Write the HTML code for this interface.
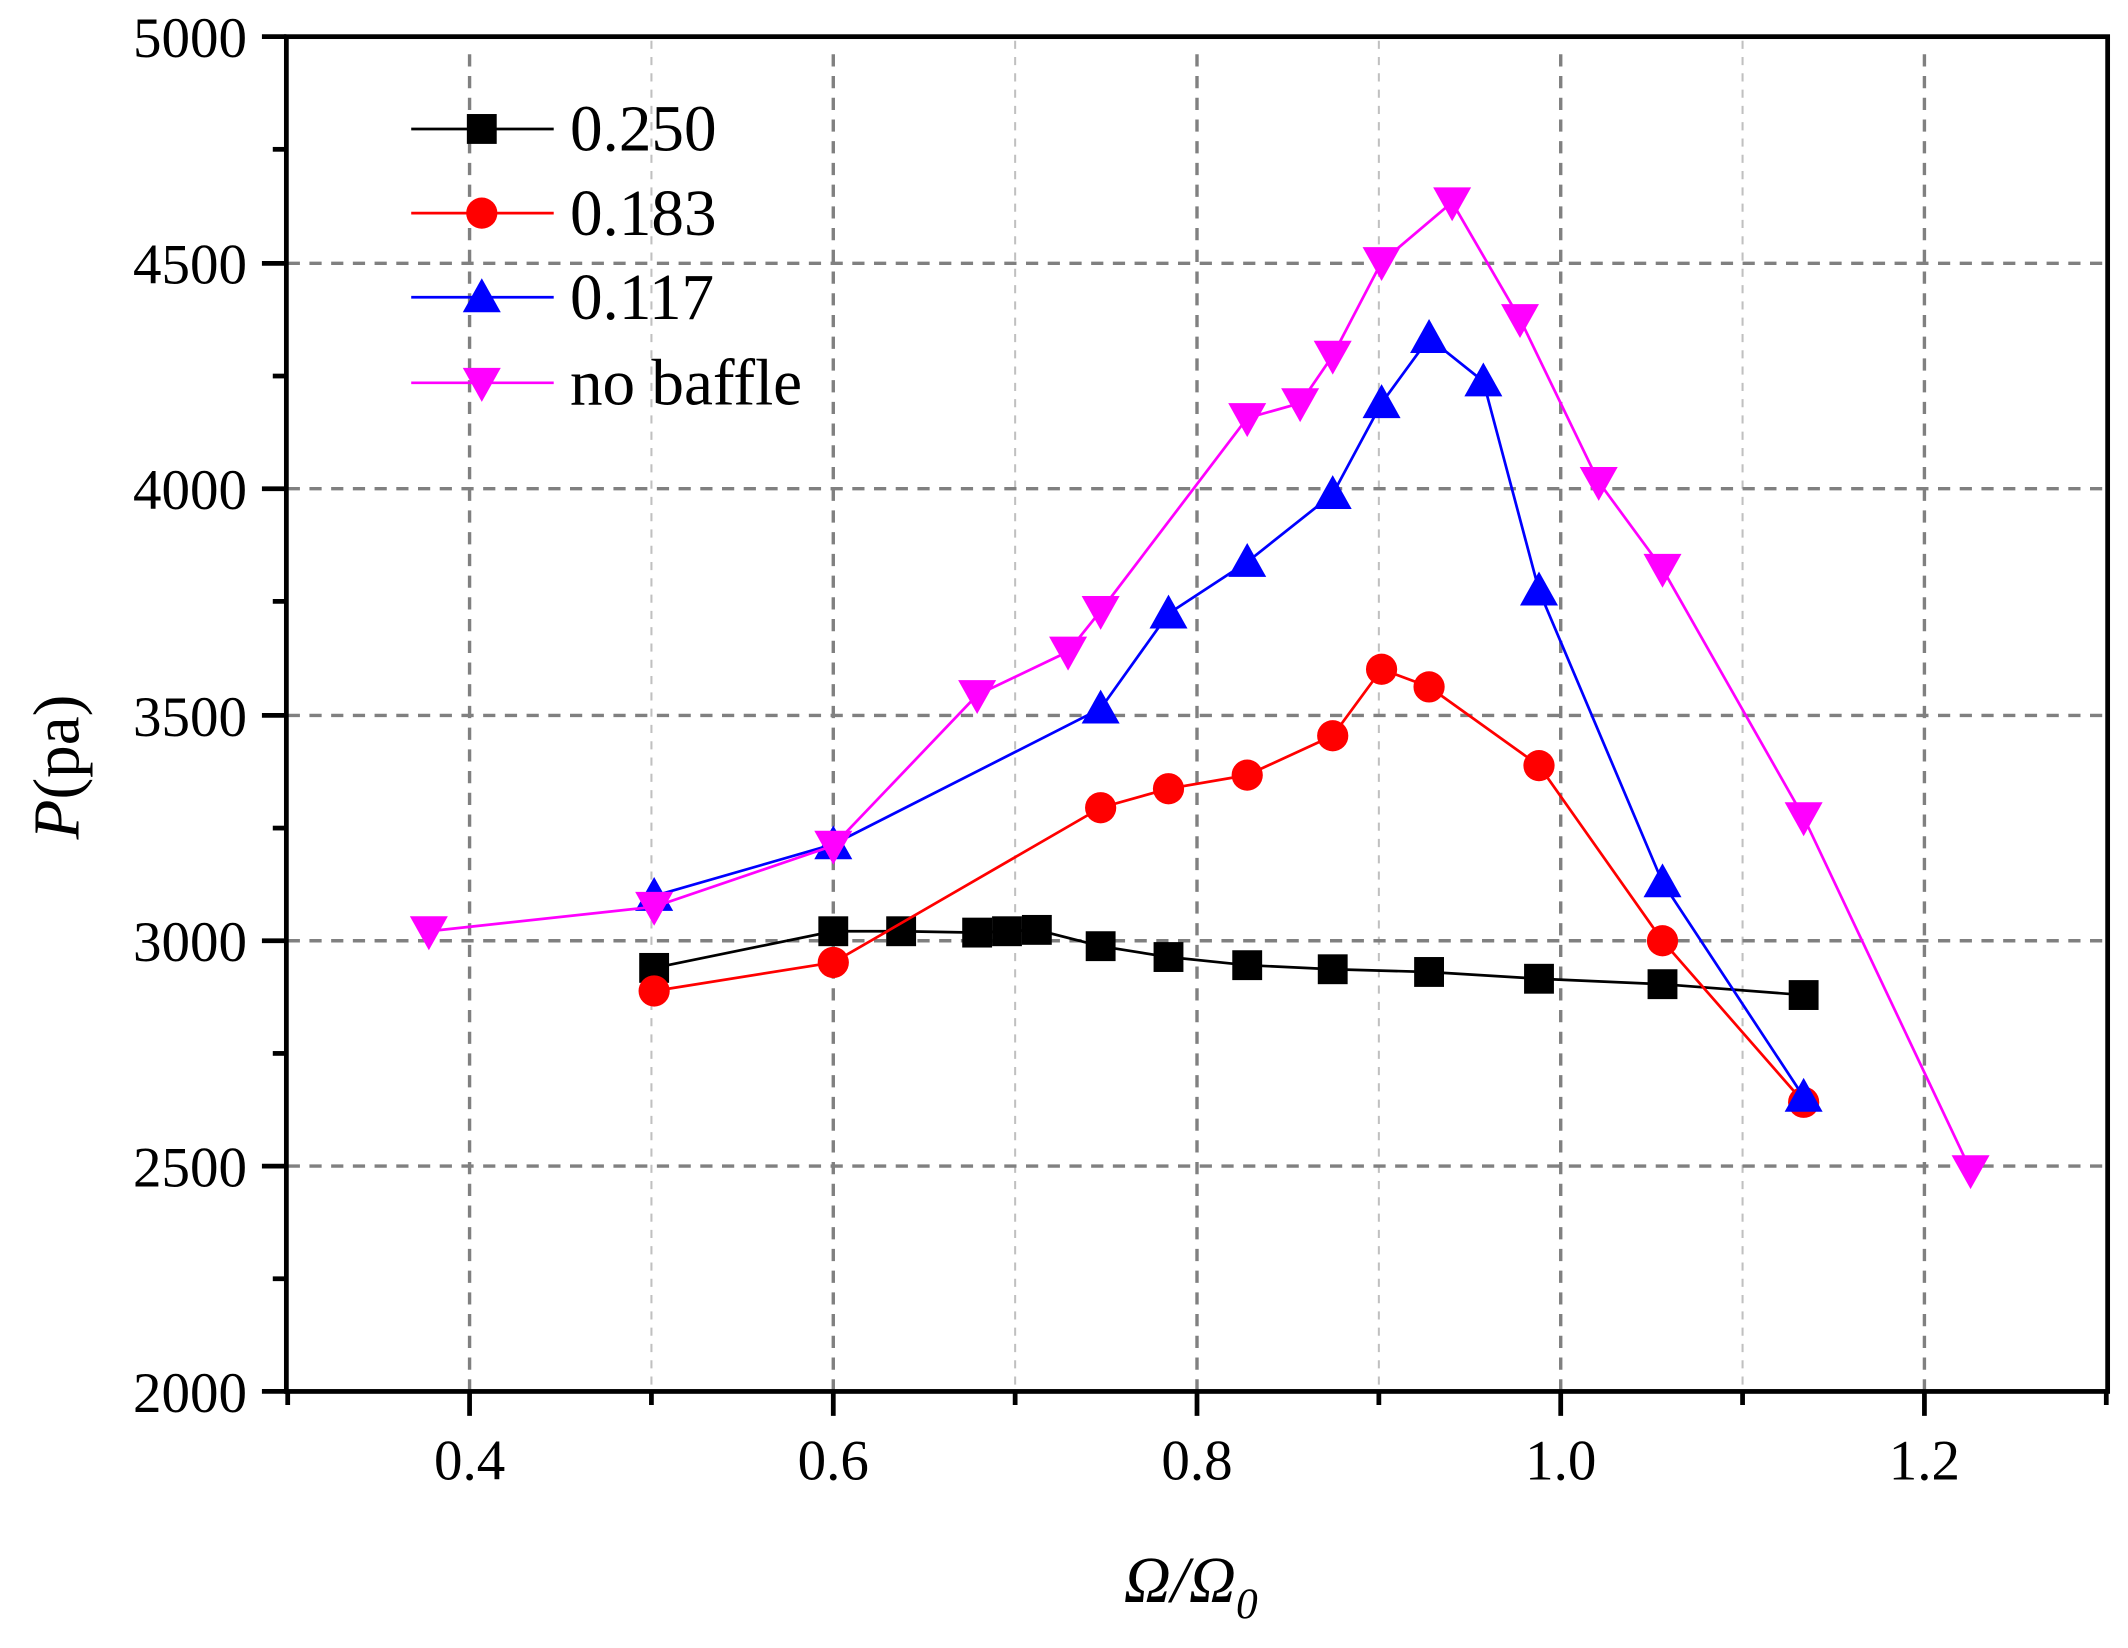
<!DOCTYPE html>
<html><head><meta charset="utf-8"><style>html,body{margin:0;padding:0;background:#fff}svg{display:block}</style></head>
<body>
<svg width="2128" height="1648" viewBox="0 0 1568 1214" preserveAspectRatio="none" xmlns="http://www.w3.org/2000/svg" font-family="Liberation Serif, serif">
<defs>
<path id="tu" d="M0,-14 L14,11 L-14,11 Z"/>
<path id="td" d="M0,14 L14,-11 L-14,-11 Z"/>
</defs>
<!-- minor vertical grid -->
<g stroke="#c0c0c0" stroke-width="1.5" stroke-dasharray="6,6">
<line x1="480" y1="30" x2="480" y2="1024"/><line x1="748" y1="30" x2="748" y2="1024"/><line x1="1016" y1="30" x2="1016" y2="1024"/><line x1="1284" y1="30" x2="1284" y2="1024"/>
</g>
<g stroke="#808080" stroke-width="2.5" stroke-dasharray="9,7">
<line x1="346" y1="40" x2="346" y2="1024"/><line x1="614" y1="40" x2="614" y2="1024"/><line x1="882" y1="40" x2="882" y2="1024"/><line x1="1150" y1="40" x2="1150" y2="1024"/><line x1="1418" y1="40" x2="1418" y2="1024"/>
<line x1="212" y1="194" x2="1550" y2="194"/><line x1="212" y1="360" x2="1550" y2="360"/><line x1="212" y1="527" x2="1550" y2="527"/><line x1="212" y1="693" x2="1550" y2="693"/><line x1="212" y1="859" x2="1550" y2="859"/>
</g>
<!-- axes -->
<g stroke="#000" stroke-width="3.5" fill="none">
<rect x="211" y="27" width="1342" height="998"/>
<line x1="193" y1="1025" x2="211" y2="1025"/><line x1="193" y1="859" x2="211" y2="859"/><line x1="193" y1="693" x2="211" y2="693"/><line x1="193" y1="527" x2="211" y2="527"/><line x1="193" y1="360" x2="211" y2="360"/><line x1="193" y1="194" x2="211" y2="194"/><line x1="193" y1="27" x2="211" y2="27"/>
<line x1="201" y1="942" x2="211" y2="942"/><line x1="201" y1="776" x2="211" y2="776"/><line x1="201" y1="610" x2="211" y2="610"/><line x1="201" y1="443" x2="211" y2="443"/><line x1="201" y1="277" x2="211" y2="277"/><line x1="201" y1="110" x2="211" y2="110"/>
<line x1="346" y1="1025" x2="346" y2="1043"/><line x1="614" y1="1025" x2="614" y2="1043"/><line x1="882" y1="1025" x2="882" y2="1043"/><line x1="1150" y1="1025" x2="1150" y2="1043"/><line x1="1418" y1="1025" x2="1418" y2="1043"/>
<line x1="212" y1="1025" x2="212" y2="1035"/><line x1="480" y1="1025" x2="480" y2="1035"/><line x1="748" y1="1025" x2="748" y2="1035"/><line x1="1016" y1="1025" x2="1016" y2="1035"/><line x1="1284" y1="1025" x2="1284" y2="1035"/><line x1="1552" y1="1025" x2="1552" y2="1035"/>
</g>
<g font-size="42" text-anchor="end" fill="#000">
<text x="182" y="1040">2000</text><text x="182" y="874">2500</text><text x="182" y="708">3000</text><text x="182" y="542">3500</text><text x="182" y="375">4000</text><text x="182" y="209">4500</text><text x="182" y="42">5000</text>
</g>
<g font-size="42" text-anchor="middle" fill="#000">
<text x="346" y="1090">0.4</text><text x="614" y="1090">0.6</text><text x="882" y="1090">0.8</text><text x="1150" y="1090">1.0</text><text x="1418" y="1090">1.2</text>
</g>
<text transform="translate(58,565) rotate(-90)" font-size="48" text-anchor="middle"><tspan font-style="italic">P</tspan>(pa)</text>
<text x="828" y="1180" font-size="48" font-style="italic">Ω/Ω<tspan font-size="32" dy="12">0</tspan></text>
<!-- series -->
<polyline fill="none" stroke="#000" stroke-width="2" points="482,713 614,686 664,686 720,687 742,686 764,685 811,697 861,705 919,711 982,714 1053,716 1134,721 1225,725 1329,733"/>
<g fill="#000">
<rect x="471" y="702" width="22" height="22"/><rect x="603" y="675" width="22" height="22"/><rect x="653" y="675" width="22" height="22"/><rect x="709" y="676" width="22" height="22"/><rect x="731" y="675" width="22" height="22"/><rect x="753" y="674" width="22" height="22"/><rect x="800" y="686" width="22" height="22"/><rect x="850" y="694" width="22" height="22"/><rect x="908" y="700" width="22" height="22"/><rect x="971" y="703" width="22" height="22"/><rect x="1042" y="705" width="22" height="22"/><rect x="1123" y="710" width="22" height="22"/><rect x="1214" y="714" width="22" height="22"/><rect x="1318" y="722" width="22" height="22"/>
</g>
<polyline fill="none" stroke="#f00" stroke-width="2" points="482,730 614,709 811,595 861,581 919,571 982,542 1018,493 1053,506 1134,564 1225,693 1329,812"/>
<g fill="#f00">
<circle cx="482" cy="730" r="11.5"/><circle cx="614" cy="709" r="11.5"/><circle cx="811" cy="595" r="11.5"/><circle cx="861" cy="581" r="11.5"/><circle cx="919" cy="571" r="11.5"/><circle cx="982" cy="542" r="11.5"/><circle cx="1018" cy="493" r="11.5"/><circle cx="1053" cy="506" r="11.5"/><circle cx="1134" cy="564" r="11.5"/><circle cx="1225" cy="693" r="11.5"/><circle cx="1329" cy="812" r="11.5"/>
</g>
<polyline fill="none" stroke="#00f" stroke-width="2" points="482,660 614,622 811,522 861,452 919,414 982,364 1018,297 1053,249 1093,281 1134,435 1225,650 1329,808"/>
<g fill="#00f">
<use href="#tu" x="482" y="660"/><use href="#tu" x="614" y="622"/><use href="#tu" x="811" y="522"/><use href="#tu" x="861" y="452"/><use href="#tu" x="919" y="414"/><use href="#tu" x="982" y="364"/><use href="#tu" x="1018" y="297"/><use href="#tu" x="1053" y="249"/><use href="#tu" x="1093" y="281"/><use href="#tu" x="1134" y="435"/><use href="#tu" x="1225" y="650"/><use href="#tu" x="1329" y="808"/>
</g>
<polyline fill="none" stroke="#f0f" stroke-width="2" points="316,686 482,668 614,623 720,512 787,480 811,450 919,308 958,297 982,262 1018,193 1070,149 1120,235 1178,355 1225,419 1329,602 1452,862"/>
<g fill="#f0f">
<use href="#td" x="316" y="686"/><use href="#td" x="482" y="668"/><use href="#td" x="614" y="623"/><use href="#td" x="720" y="512"/><use href="#td" x="787" y="480"/><use href="#td" x="811" y="450"/><use href="#td" x="919" y="308"/><use href="#td" x="958" y="297"/><use href="#td" x="982" y="262"/><use href="#td" x="1018" y="193"/><use href="#td" x="1070" y="149"/><use href="#td" x="1120" y="235"/><use href="#td" x="1178" y="355"/><use href="#td" x="1225" y="419"/><use href="#td" x="1329" y="602"/><use href="#td" x="1452" y="862"/>
</g>
<!-- legend -->
<line x1="303" y1="95" x2="408" y2="95" stroke="#000" stroke-width="2"/><rect x="344" y="84" width="22" height="22" fill="#000"/>
<line x1="303" y1="157" x2="408" y2="157" stroke="#f00" stroke-width="2"/><circle cx="355" cy="157" r="11.5" fill="#f00"/>
<line x1="303" y1="219" x2="408" y2="219" stroke="#00f" stroke-width="2"/><use href="#tu" x="355" y="219" fill="#00f"/>
<line x1="303" y1="282" x2="408" y2="282" stroke="#f0f" stroke-width="2"/><use href="#td" x="355" y="282" fill="#f0f"/>
<g font-size="48" fill="#000">
<text x="420" y="111">0.250</text><text x="420" y="173">0.183</text><text x="420" y="235">0.117</text><text x="420" y="298">no baffle</text>
</g>
</svg>
</body></html>
